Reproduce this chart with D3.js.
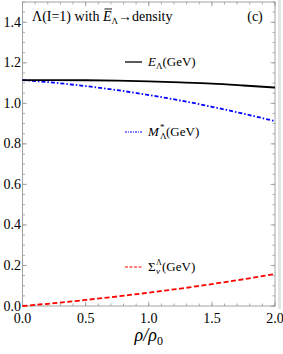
<!DOCTYPE html>
<html>
<head>
<meta charset="utf-8">
<script src="https://cdn.jsdelivr.net/npm/d3@7"></script>
<style>
  html, body { margin: 0; padding: 0; background: #fff; }
  svg { display: block; }
  svg text { font-family: "Liberation Serif", "Times New Roman", "DejaVu Serif", serif; }
</style>
</head>
<body>
<svg id="chart" width="283" height="354"></svg>
<script>
// density ratio rho/rho0
const rho = [0, 0.25, 0.5, 0.75, 1.0, 1.25, 1.5, 1.75, 2.0];
// E_Lambda (GeV)
const energy = [1.115, 1.115, 1.114, 1.112, 1.108, 1.103, 1.097, 1.088, 1.078];
// M*_Lambda (GeV)
const mass = [1.115, 1.102, 1.085, 1.065, 1.041, 1.014, 0.983, 0.949, 0.912];
// Sigma_v^Lambda (GeV)
const sigma = [0, 0.014, 0.030, 0.047, 0.066, 0.086, 0.108, 0.132, 0.158];

const xTicks = [0, 0.5, 1.0, 1.5, 2.0];
const yTicks = [0, 0.2, 0.4, 0.6, 0.8, 1.0, 1.2, 1.4];

const WIDTH = 283, HEIGHT = 354;
const margin = { left: 22.5, right: 8, top: 2, bottom: 48 };

const svg = d3.select('#chart');

const x = d3.scaleLinear().domain([0, 2]).range([margin.left, WIDTH - margin.right]);
const y = d3.scaleLinear().domain([0, 1.5]).range([HEIGHT - margin.bottom, margin.top]);

const frameCol = '#999';

// faint strip at right edge
svg.append('rect')
  .attr('x', x(2) + 3).attr('y', 0)
  .attr('width', 3).attr('height', y(0) + 3)
  .attr('fill', '#e4e4e4');

/*
 * Frame ticks (inside, on all four sides)
 */
const g = svg.append('g');
const xMinor = d3.range(0, 2.0001, 0.1);
const yMinor = d3.range(0, 1.5001, 0.05);

function tickLines(vals, len, horiz) {
  vals.forEach(v => {
    if (horiz) {
      g.append('line').attr('x1', x(v)).attr('x2', x(v))
        .attr('y1', y(0)).attr('y2', y(0) - len).attr('stroke', frameCol).attr('stroke-width', 0.8);
      g.append('line').attr('x1', x(v)).attr('x2', x(v))
        .attr('y1', y(1.5)).attr('y2', y(1.5) + len).attr('stroke', frameCol).attr('stroke-width', 0.8);
    } else {
      g.append('line').attr('y1', y(v)).attr('y2', y(v))
        .attr('x1', x(0)).attr('x2', x(0) + len).attr('stroke', frameCol).attr('stroke-width', 0.8);
      g.append('line').attr('y1', y(v)).attr('y2', y(v))
        .attr('x1', x(2)).attr('x2', x(2) - len).attr('stroke', frameCol).attr('stroke-width', 0.8);
    }
  });
}
tickLines(xMinor, 2.5, true);
tickLines(xTicks, 4.5, true);
tickLines(yMinor, 2.5, false);
tickLines(yTicks, 4.5, false);

g.append('rect')
  .attr('x', x(0)).attr('y', y(1.5))
  .attr('width', x(2) - x(0)).attr('height', y(0) - y(1.5))
  .attr('fill', 'none').attr('stroke', frameCol).attr('stroke-width', 0.9);

// tick labels
svg.append('g').selectAll('text')
  .data(xTicks).enter().append('text')
    .attr('x', d => x(d)).attr('y', y(0) + 17)
    .attr('text-anchor', 'middle')
    .attr('font-size', 14)
    .text(d => d.toFixed(1));

svg.append('g').selectAll('text')
  .data(yTicks).enter().append('text')
    .attr('x', x(0) - 1.5).attr('y', d => y(d) + 4.5)
    .attr('text-anchor', 'end')
    .attr('font-size', 14)
    .text(d => d.toFixed(1));

// x axis label
const xl = svg.append('text')
  .attr('x', x(1)).attr('y', 341)
  .attr('text-anchor', 'middle')
  .attr('font-size', 18);
xl.append('tspan').attr('font-style', 'italic').text('ρ/ρ');
xl.append('tspan').attr('font-size', 12).attr('dy', 4).text('0');

/*
 * Curves
 */
const line = (vals) => d3.line()
  .x((d, i) => x(rho[i]))
  .y(d => y(d))
  .curve(d3.curveMonotoneX)(vals);

const series = [
  { vals: sigma, color: '#ff0000', dash: '5,2.5', width: 1.8 },
  { vals: mass, color: '#0000ff', dash: '4,2,1.5,2', width: 1.8 },
  { vals: energy, color: '#000', dash: null, width: 1.8 }
];

series.forEach(s => {
  svg.append('path')
    .attr('d', line(s.vals))
    .attr('fill', 'none')
    .attr('stroke', s.color)
    .attr('stroke-width', s.width)
    .attr('stroke-dasharray', s.dash);
});

/*
 * Legend entries
 */
function legendSample(yPos, s) {
  svg.append('line')
    .attr('x1', 125).attr('x2', 142)
    .attr('y1', yPos).attr('y2', yPos)
    .attr('stroke', s.color)
    .attr('stroke-width', s === series[2] ? 1.3 : 1.1)
    .attr('stroke-dasharray', s.dash ? (s === series[1] ? '2,1,1,1' : '3,1.5') : null);
}

// E_Lambda
legendSample(62, series[2]);
let t = svg.append('text').attr('x', 148).attr('y', 66).attr('font-size', 13);
t.append('tspan').attr('font-style', 'italic').text('E');
t.append('tspan').attr('font-size', 9).attr('dy', 3).text('Λ');
t.append('tspan').attr('dy', -3).text('(GeV)');

// M*_Lambda
legendSample(132, series[1]);
t = svg.append('text').attr('x', 148).attr('y', 136).attr('font-size', 13);
t.append('tspan').attr('font-style', 'italic').text('M');
svg.append('text').attr('x', 160).attr('y', 130).attr('font-size', 9).text('*');
svg.append('text').attr('x', 160).attr('y', 139).attr('font-size', 9).text('Λ');
svg.append('text').attr('x', 166).attr('y', 136).attr('font-size', 13).text('(GeV)');

// Sigma_v^Lambda
legendSample(267, series[0]);
svg.append('text').attr('x', 148).attr('y', 271).attr('font-size', 13).text('Σ');
svg.append('text').attr('x', 156).attr('y', 265).attr('font-size', 8).text('Λ');
svg.append('text').attr('x', 156).attr('y', 274).attr('font-size', 9).attr('font-style', 'italic').text('v');
svg.append('text').attr('x', 162).attr('y', 271).attr('font-size', 13).text('(GeV)');

/*
 * Title and panel tag
 */
const title = svg.append('text').attr('x', 32).attr('y', 21).attr('font-size', 14);
title.append('tspan').text('Λ(I=1) with ');
title.append('tspan').attr('font-style', 'italic').text('E');
title.append('tspan').attr('font-size', 9).attr('dy', 3).text('Λ');
title.append('tspan').attr('dy', -3).text('→density');

// overline on E
const eStart = title.node().getStartPositionOfChar(12);
const eEnd = title.node().getEndPositionOfChar(12);
svg.append('line')
  .attr('x1', eStart.x + 1.5).attr('x2', eEnd.x + 0.5)
  .attr('y1', 9).attr('y2', 9)
  .attr('stroke', '#000').attr('stroke-width', 0.9);

svg.append('text').attr('x', 255).attr('y', 21)
  .attr('text-anchor', 'middle').attr('font-size', 14).text('(c)');
</script>
</body>
</html>
